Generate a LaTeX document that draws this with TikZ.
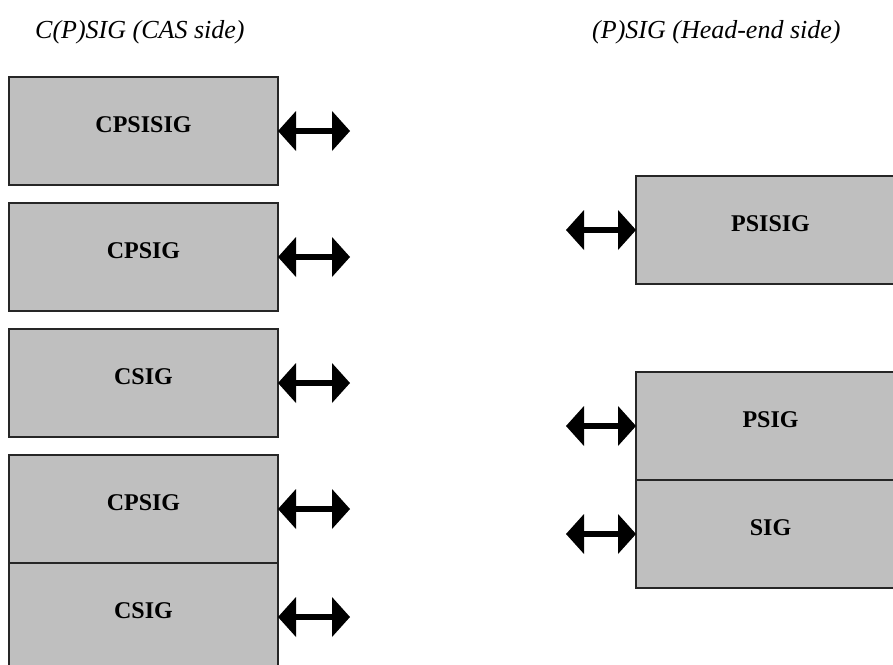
\documentclass[tikz,border=0pt]{standalone}
\usepackage{fontspec}
\setmainfont{Liberation Serif}
\usetikzlibrary{positioning,arrows.meta}
\tikzstyle{sigbox} = [draw=black!85, fill=black!25, line width=1.2pt,
    rectangle, minimum width=269pt, minimum height=108pt, inner sep=0pt,
    outer sep=0pt, text depth=13pt, font=\fontsize{24}{28}\selectfont\bfseries]
\tikzstyle{sidetitle} = [inner sep=0pt, anchor=base west,
    font=\fontsize{26}{30}\selectfont\itshape]
\tikzstyle{link} = [line width=6pt,
    {Triangle[length=18pt,width=40pt,line width=0pt]}-{Triangle[length=18pt,width=40pt,line width=0pt]}]

\begin{document}
\begin{tikzpicture}[x=1pt,y=-1pt]
\clip (0,0) rectangle (893,664);
\useasboundingbox (0,0) rectangle (893,664);
% CAS side
\node[sidetitle] (castitle) at (35,38) {C(P)SIG (CAS side)};
\node[sigbox, anchor=north west] (cpsisig) at (9,77) {CPSISIG};
\node[sigbox, below=18pt of cpsisig] (cpsig) {CPSIG};
\node[sigbox, below=18pt of cpsig] (csig) {CSIG};
\node[sigbox, below=18pt of csig] (cpsigb) {CPSIG};
\node[sigbox, below=0pt of cpsigb] (csigb) {CSIG};
\foreach \b in {cpsisig,cpsig,csig,cpsigb,csigb}{
    \coordinate[right=72pt of \b.east] (\b-end);
    \draw[link] (\b.east) -- (\b-end);
}
% Head-end side
\node[sidetitle] (hetitle) at (592,38) {(P)SIG (Head-end side)};
\node[sigbox, anchor=north west] (psisig) at (636,176) {PSISIG};
\node[sigbox, anchor=north west] (psig) at (636,372) {PSIG};
\node[sigbox, below=0pt of psig] (sig) {SIG};
\foreach \b in {psisig,psig,sig}{
    \coordinate[left=70pt of \b.west] (\b-end);
    \draw[link] (\b.west) -- (\b-end);
}
\end{tikzpicture}
\end{document}
